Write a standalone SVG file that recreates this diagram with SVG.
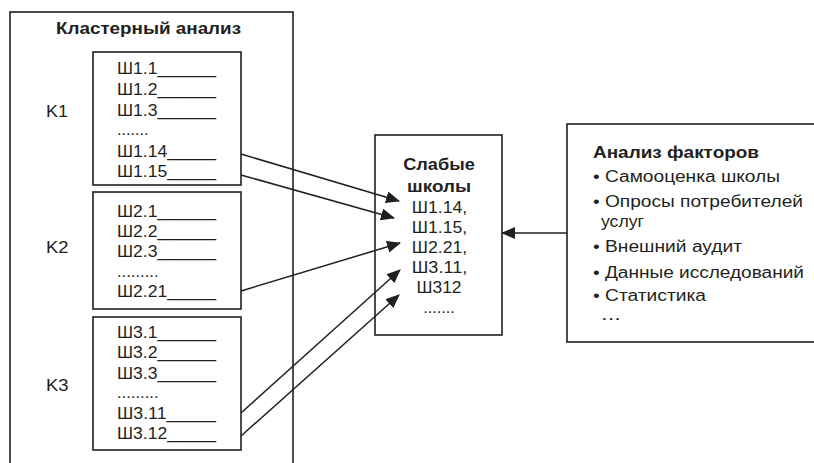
<svg xmlns="http://www.w3.org/2000/svg" width="814" height="463" viewBox="0 0 814 463">
  <style>
    .box { fill: #ffffff; stroke: #231f20; stroke-width: 1.6; }
    .t { font-family: "Liberation Sans", Arial, sans-serif; font-size: 16px; fill: #231f20; }
    .b { font-weight: bold; }
    .c { text-anchor: middle; }
    .edge { stroke: #231f20; stroke-width: 1.5; fill: none; marker-end: url(#arrow); }
  </style>
  <defs>
    <marker id="arrow" viewBox="0 0 14 12" refX="13" refY="6" markerWidth="14" markerHeight="12" markerUnits="userSpaceOnUse" orient="auto">
      <path d="M0,0 L14,6 L0,12 Z" fill="#231f20"/>
    </marker>
  </defs>
  <rect width="814" height="463" fill="#ffffff"/>

  <!-- cluster analysis frame (runs past the lower edge) -->
  <g id="cluster-analysis">
    <rect class="box" x="10" y="12" width="283" height="470"/>
    <text class="t b" x="56" y="33.5" textLength="185" lengthAdjust="spacingAndGlyphs">Кластерный анализ</text>
  </g>

  <!-- cluster K1 -->
  <g id="k1">
    <text class="t" x="46" y="117" textLength="22" lengthAdjust="spacingAndGlyphs">K1</text>
    <rect class="box" x="93" y="52" width="148" height="133"/>
    <text class="t" x="117" y="74" textLength="99" lengthAdjust="spacingAndGlyphs">Ш1.1______</text>
    <text class="t" x="117" y="95" textLength="99" lengthAdjust="spacingAndGlyphs">Ш1.2______</text>
    <text class="t" x="117" y="116" textLength="99" lengthAdjust="spacingAndGlyphs">Ш1.3______</text>
    <text class="t" x="117" y="135" textLength="31.5" lengthAdjust="spacingAndGlyphs">.......</text>
    <text class="t" x="117" y="157" textLength="99" lengthAdjust="spacingAndGlyphs">Ш1.14_____</text>
    <text class="t" x="117" y="177" textLength="99" lengthAdjust="spacingAndGlyphs">Ш1.15_____</text>
  </g>

  <!-- cluster K2 -->
  <g id="k2">
    <text class="t" x="46" y="253" textLength="22.5" lengthAdjust="spacingAndGlyphs">K2</text>
    <rect class="box" x="93" y="192" width="148" height="117"/>
    <text class="t" x="117" y="217" textLength="99" lengthAdjust="spacingAndGlyphs">Ш2.1______</text>
    <text class="t" x="117" y="237" textLength="99" lengthAdjust="spacingAndGlyphs">Ш2.2______</text>
    <text class="t" x="117" y="257" textLength="99" lengthAdjust="spacingAndGlyphs">Ш2.3______</text>
    <text class="t" x="117" y="277" textLength="41.5" lengthAdjust="spacingAndGlyphs">.........</text>
    <text class="t" x="117" y="297" textLength="99" lengthAdjust="spacingAndGlyphs">Ш2.21_____</text>
  </g>

  <!-- cluster K3 -->
  <g id="k3">
    <text class="t" x="46" y="391" textLength="22.5" lengthAdjust="spacingAndGlyphs">K3</text>
    <rect class="box" x="93" y="317" width="148" height="133"/>
    <text class="t" x="117" y="338" textLength="99" lengthAdjust="spacingAndGlyphs">Ш3.1______</text>
    <text class="t" x="117" y="358" textLength="99" lengthAdjust="spacingAndGlyphs">Ш3.2______</text>
    <text class="t" x="117" y="379" textLength="99" lengthAdjust="spacingAndGlyphs">Ш3.3______</text>
    <text class="t" x="117" y="398" textLength="41.5" lengthAdjust="spacingAndGlyphs">.........</text>
    <text class="t" x="117" y="419" textLength="99" lengthAdjust="spacingAndGlyphs">Ш3.11_____</text>
    <text class="t" x="117" y="439" textLength="99" lengthAdjust="spacingAndGlyphs">Ш3.12_____</text>
  </g>

  <!-- weak schools -->
  <g id="weak-schools">
    <rect class="box" x="375" y="135" width="127" height="200"/>
    <text class="t b c" x="439" y="170" textLength="71.5" lengthAdjust="spacingAndGlyphs">Слабые</text>
    <text class="t b c" x="439" y="192" textLength="64" lengthAdjust="spacingAndGlyphs">школы</text>
    <text class="t c" x="439.5" y="213" textLength="55.5" lengthAdjust="spacingAndGlyphs">Ш1.14,</text>
    <text class="t c" x="439.5" y="233" textLength="55.5" lengthAdjust="spacingAndGlyphs">Ш1.15,</text>
    <text class="t c" x="439.5" y="253" textLength="55.5" lengthAdjust="spacingAndGlyphs">Ш2.21,</text>
    <text class="t c" x="439.5" y="273" textLength="55.5" lengthAdjust="spacingAndGlyphs">Ш3.11,</text>
    <text class="t c" x="439" y="293" textLength="45" lengthAdjust="spacingAndGlyphs">Ш312</text>
    <text class="t c" x="439" y="313" textLength="31.5" lengthAdjust="spacingAndGlyphs">.......</text>
  </g>

  <!-- factor analysis (runs past the right edge) -->
  <g id="factor-analysis">
    <rect class="box" x="567" y="124" width="260" height="218"/>
    <text class="t b" x="593" y="157.5" textLength="166" lengthAdjust="spacingAndGlyphs">Анализ факторов</text>
    <text class="t" x="593" y="182" textLength="187" lengthAdjust="spacingAndGlyphs">• Самооценка школы</text>
    <text class="t" x="593" y="207" textLength="210" lengthAdjust="spacingAndGlyphs">• Опросы потребителей</text>
    <text class="t" x="601" y="227" textLength="43" lengthAdjust="spacingAndGlyphs">услуг</text>
    <text class="t" x="593" y="252" textLength="149" lengthAdjust="spacingAndGlyphs">• Внешний аудит</text>
    <text class="t" x="593" y="278" textLength="211" lengthAdjust="spacingAndGlyphs">• Данные исследований</text>
    <text class="t" x="593" y="301" textLength="113" lengthAdjust="spacingAndGlyphs">• Статистика</text>
    <text class="t" x="601" y="320" textLength="20" lengthAdjust="spacingAndGlyphs">...</text>
  </g>

  <!-- connectors -->
  <g id="connectors">
    <line class="edge" x1="241" y1="154" x2="399" y2="201"/>
    <line class="edge" x1="241" y1="175" x2="394" y2="218"/>
    <line class="edge" x1="241" y1="291" x2="400" y2="243"/>
    <line class="edge" x1="241" y1="413" x2="400" y2="270"/>
    <line class="edge" x1="241" y1="436" x2="399" y2="295"/>
    <line class="edge" x1="567" y1="233" x2="502" y2="233"/>
  </g>
</svg>
